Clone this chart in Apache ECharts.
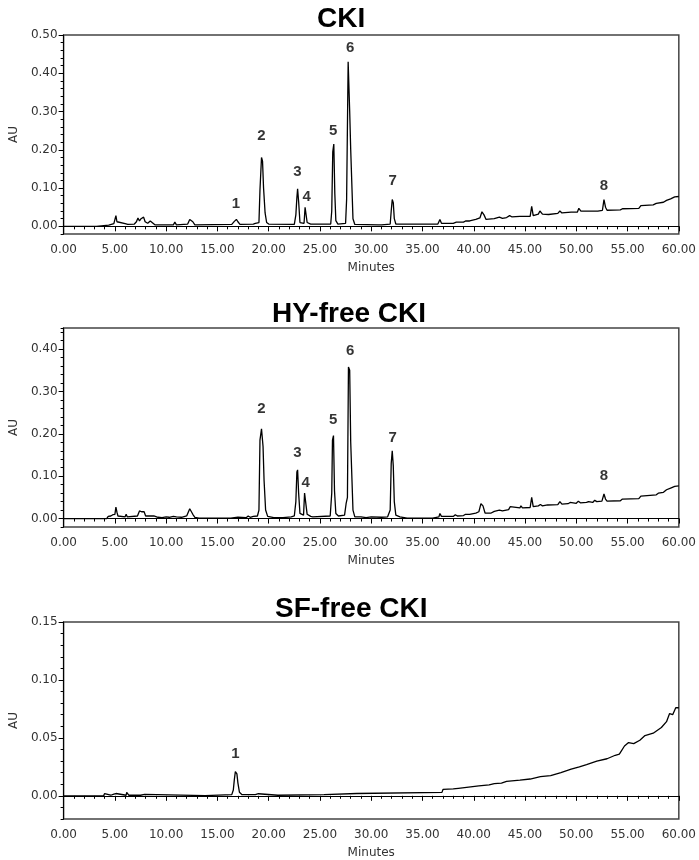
<!DOCTYPE html>
<html>
<head>
<meta charset="utf-8">
<title>CKI chromatograms</title>
<script src="https://cdn.jsdelivr.net/npm/echarts@6/dist/echarts.min.js"></script>
<style>
  html, body { margin: 0; padding: 0; background: #fff; }
  #chart { width: 699px; height: 860px; }
</style>
</head>
<body>
<div id="chart"></div>
<script>
// chromatogram traces, [minutes, AU]
var ckiTrace = [
  [0,0],[3.2,0],[3.3,0.002],[4.4,0.003],[4.5,0.006],[4.9,0.007],[5.05,0.012],[5.1,0.028],[5.2,0.012],[5.35,0.008],
  [6.0,0.007],[6.1,0.01],[6.25,0.005],[6.9,0.006],[7.1,0.012],[7.25,0.022],[7.4,0.014],[7.55,0.02],[7.65,0.016],
  [7.8,0.024],[7.95,0.012],[8.2,0.008],[8.45,0.014],[8.6,0.012],[8.9,0.004],[10.7,0.004],[10.85,0.011],[11.0,0.004],
  [12.1,0.006],[12.3,0.018],[12.45,0.021],[12.6,0.012],[12.8,0.004],[16.4,0.005],[16.65,0.013],[16.85,0.018],
  [17.0,0.012],[17.2,0.005],[18.5,0.006],[18.7,0.008],[19.05,0.01],[19.15,0.095],[19.3,0.18],[19.4,0.17],[19.5,0.1],
  [19.65,0.035],[19.8,0.01],[20.0,0.006],[22.5,0.005],[22.65,0.03],[22.75,0.075],[22.82,0.098],[22.92,0.065],
  [23.05,0.01],[23.45,0.008],[23.55,0.05],[23.65,0.048],[23.75,0.01],[24.1,0.006],[24.25,0.01],[24.4,0.006],
  [26.05,0.006],[26.15,0.04],[26.25,0.195],[26.35,0.215],[26.45,0.085],[26.55,0.015],[26.75,0.006],
  [27.5,0.008],[27.6,0.07],[27.75,0.43],[27.9,0.3],[28.0,0.2],[28.12,0.2],[28.22,0.02],[28.4,0.005],
  [30.7,0.004],[30.85,0.007],[31.0,0.004],[31.85,0.006],[31.95,0.04],[32.05,0.07],[32.15,0.062],[32.25,0.02],
  [32.4,0.006],[36.5,0.006],[36.7,0.018],[36.85,0.008],[38.0,0.008],[38.3,0.011],[39.0,0.011],[39.2,0.014],
  [39.6,0.014],[40.2,0.018],[40.6,0.022],[40.8,0.038],[41.0,0.03],[41.2,0.018],[42.0,0.02],[42.5,0.024],
  [42.8,0.021],[43.2,0.023],[43.5,0.028],[43.7,0.025],[44.5,0.026],[44.6,0.03],[44.8,0.026],[45.5,0.026],
  [45.65,0.052],[45.8,0.028],[46.3,0.032],[46.45,0.04],[46.7,0.032],[47.3,0.031],[48.2,0.034],[48.4,0.04],
  [48.6,0.035],[49.5,0.037],[50.1,0.037],[50.25,0.047],[50.45,0.04],[51.0,0.04],[51.9,0.04],[52.0,0.044],
  [52.1,0.04],[52.55,0.042],[52.7,0.07],[52.85,0.05],[53.0,0.042],[54.3,0.043],[54.5,0.046],[56.1,0.047],
  [56.3,0.054],[57.5,0.056],[57.8,0.06],[58.5,0.063],[58.8,0.068],[59.2,0.072],[59.6,0.077],[60,0.078]
];

var hyFreeTrace = [
  [0,0],[4.2,0],[4.35,0.005],[4.6,0.006],[4.8,0.009],[5.0,0.01],[5.1,0.027],[5.2,0.015],[5.3,0.006],[6.0,0.004],
  [6.1,0.01],[6.2,0.004],[7.2,0.006],[7.4,0.018],[7.6,0.016],[7.7,0.012],[7.85,0.016],[8.0,0.006],[8.4,0.006],
  [8.55,0.01],[8.8,0.006],[9.2,0.003],[9.6,0.002],[10.0,0.004],[10.3,0.003],[10.7,0.005],[10.85,0.008],[11.0,0.004],
  [11.5,0.003],[12.0,0.006],[12.3,0.023],[12.45,0.02],[12.6,0.01],[12.8,0.003],[13.2,0.001],[13.9,0.001],
  [14.0,0.003],[14.3,0.001],[15.0,0.001],[15.1,0.003],[15.3,0.001],[16.3,0.001],[16.4,0.003],[17.0,0.003],
  [17.1,0.001],[17.8,0.002],[18.0,0.006],[18.2,0.003],[18.5,0.005],[18.9,0.006],[19.05,0.02],[19.15,0.185],
  [19.3,0.212],[19.45,0.17],[19.55,0.09],[19.7,0.02],[19.9,0.005],[20.5,0.002],[21.4,0.002],[21.5,0.004],
  [22.2,0.004],[22.5,0.006],[22.65,0.04],[22.75,0.11],[22.82,0.115],[22.92,0.06],[23.05,0.012],[23.4,0.008],
  [23.5,0.06],[23.62,0.058],[23.75,0.01],[24.1,0.005],[24.3,0.004],[26.0,0.006],[26.15,0.06],[26.22,0.185],
  [26.32,0.196],[26.42,0.065],[26.55,0.012],[26.8,0.006],[27.4,0.008],[27.55,0.035],[27.68,0.05],[27.78,0.358],
  [27.9,0.35],[28.0,0.18],[28.12,0.178],[28.22,0.02],[28.4,0.004],[29.0,0.004],[29.5,0.002],[30.0,0.004],
  [31.0,0.003],[31.6,0.004],[31.85,0.02],[31.95,0.13],[32.05,0.16],[32.15,0.125],[32.25,0.04],[32.4,0.008],
  [32.8,0.004],[33.5,0.001],[36.0,0.001],[36.6,0.004],[36.7,0.012],[36.85,0.005],[38.0,0.005],[38.2,0.009],
  [38.4,0.006],[39.0,0.007],[39.2,0.01],[39.6,0.01],[40.2,0.013],[40.5,0.016],[40.7,0.035],[40.9,0.03],
  [41.1,0.013],[41.7,0.013],[42.0,0.017],[42.5,0.02],[42.8,0.018],[43.4,0.021],[43.55,0.028],[43.7,0.024],
  [44.5,0.025],[44.6,0.03],[44.75,0.025],[45.5,0.026],[45.65,0.05],[45.8,0.028],[46.3,0.03],[46.5,0.033],
  [46.7,0.03],[47.2,0.032],[48.2,0.033],[48.4,0.04],[48.6,0.034],[49.2,0.035],[49.4,0.038],[50.0,0.036],
  [50.2,0.041],[50.4,0.037],[51.0,0.038],[51.2,0.04],[51.6,0.038],[51.8,0.043],[52.0,0.04],[52.5,0.041],
  [52.7,0.058],[52.85,0.046],[53.0,0.041],[54.3,0.042],[54.5,0.046],[56.1,0.047],[56.3,0.053],[57.8,0.056],
  [58.0,0.06],[58.5,0.062],[58.8,0.068],[59.2,0.072],[59.6,0.076],[60,0.077]
];

var sfFreeTrace = [
  [0,0],[3.9,0],[4.0,0.002],[4.1,0.0005],[4.6,0.0005],[4.7,0.0015],[4.9,0.0015],[5.0,0.0005],[5.1,0.002],
  [5.2,0.0005],[6.1,0.0005],[6.15,0.003],[6.3,0.003],[6.35,0.0005],[7.5,0.0005],[7.6,0.0012],[7.9,0.0012],
  [8.0,0.0002],[13.8,0.0002],[13.9,0.001],[16.4,0.001],[16.55,0.005],[16.65,0.014],[16.75,0.021],[16.9,0.019],
  [17.0,0.011],[17.15,0.003],[17.4,0.001],[18.7,0.001],[18.8,0.0018],[19.0,0.0018],[19.1,0.0005],[20.9,0.0005],
  [21.0,0.001],[25.4,0.001],[25.5,0.002],[28.6,0.002],[28.7,0.003],[36.9,0.003],[37.0,0.0055],[38.0,0.006],
  [38.5,0.0065],[39.5,0.0075],[40.5,0.0085],[41.5,0.0095],[42.0,0.0105],[42.7,0.011],[43.2,0.0125],[44.5,0.0135],
  [45.5,0.0145],[46.5,0.0165],[47.5,0.0175],[48.5,0.02],[49.5,0.023],[50.3,0.025],[51.0,0.027],[52.0,0.03],
  [53.0,0.032],[53.8,0.035],[54.2,0.036],[54.7,0.043],[55.1,0.046],[55.6,0.045],[56.2,0.048],[56.7,0.052],
  [57.5,0.054],[58.3,0.059],[58.8,0.064],[59.1,0.071],[59.4,0.07],[59.7,0.076],[60,0.076]
];

// peak numbers: label, minutes, AU of the label centre
var ckiPeaks   = [['1',16.8,0.059],['2',19.3,0.236],['3',22.8,0.143],['4',23.7,0.077],['5',26.3,0.25],['6',27.95,0.466],['7',32.1,0.119],['8',52.7,0.106]];
var hyPeaks    = [['2',19.3,0.259],['3',22.8,0.156],['4',23.6,0.084],['5',26.3,0.234],['6',27.95,0.396],['7',32.1,0.19],['8',52.7,0.1]];
var sfPeaks    = [['1',16.75,0.0366]];

var panelTitles = ['CKI', 'HY-free CKI', 'SF-free CKI'];
var yMax = [0.5, 0.45, 0.15];
var yMajor = [[0, 0.1, 0.2, 0.3, 0.4, 0.5], [0, 0.1, 0.2, 0.3, 0.4], [0, 0.05, 0.1, 0.15]];
var yMinorStep = [0.02, 0.02, 0.01];

var chart = echarts.init(document.getElementById('chart'));

var gridTops = [35, 328, 622];
var gridHeights = [199, 199, 198];
var titleLefts = [312, 267, 270];
var titleTops = [0, 295, 590];
var traces = [ckiTrace, hyFreeTrace, sfFreeTrace];
var peaks = [ckiPeaks, hyPeaks, sfPeaks];

var labelFont = 'DejaVu Sans';
var grids = [], xAxes = [], yAxes = [], series = [], titles = [];

for (var i = 0; i < 3; i++) {
  titles.push({
    text: panelTitles[i], left: titleLefts[i], top: titleTops[i],
    textStyle: { fontFamily: 'Liberation Sans', fontSize: 28, fontWeight: 'bold', color: '#000' }
  });
  grids.push({
    left: 55, right: 17, top: gridTops[i], height: gridHeights[i],
    show: true, borderColor: '#444', borderWidth: 1.5, backgroundColor: '#fff'
  });
  xAxes.push({
    type: 'value', gridIndex: i, min: 0, max: 60, interval: 5,
    name: 'Minutes', nameLocation: 'middle', nameGap: 28,
    nameTextStyle: { fontFamily: labelFont, fontSize: 12, color: '#333' },
    axisLine: { lineStyle: { color: '#000', width: 1 } },
    axisTick: { length: 5, lineStyle: { color: '#000' } },
    minorTick: { show: true, splitNumber: 5, length: 3, lineStyle: { color: '#000' } },
    axisLabel: { fontFamily: labelFont, fontSize: 12, color: '#333', margin: 10,
      formatter: function (v) { return v.toFixed(2); } },
    splitLine: { show: false }
  });
  yAxes.push({
    type: 'value', gridIndex: i, min: -0.02, max: yMax[i],
    name: 'AU', nameLocation: 'middle', nameGap: 42, nameRotate: 90,
    nameTextStyle: { fontFamily: labelFont, fontSize: 12, color: '#333' },
    axisLine: { show: true, lineStyle: { color: '#000', width: 1 } },
    axisTick: { show: true, length: 5, customValues: yMajor[i], lineStyle: { color: '#000' } },
    axisLabel: { fontFamily: labelFont, fontSize: 12, color: '#333', margin: 6,
      customValues: yMajor[i], formatter: function (v) { return v.toFixed(2); } },
    splitLine: { show: false }
  });
  // second axis only for the small ticks
  yAxes.push({
    type: 'value', gridIndex: i, min: -0.02, max: yMax[i], interval: yMinorStep[i], position: 'left',
    axisLine: { show: false },
    axisTick: { show: true, length: 3, lineStyle: { color: '#000' } },
    axisLabel: { show: false },
    splitLine: { show: false }
  });
  series.push({
    type: 'line', xAxisIndex: i, yAxisIndex: i * 2, data: traces[i],
    showSymbol: false, symbol: 'none',
    lineStyle: { color: '#000', width: 1.3 }, z: 3
  });
  series.push({
    type: 'scatter', xAxisIndex: i, yAxisIndex: i * 2, symbolSize: 0,
    data: peaks[i].map(function (p) { return { name: p[0], value: [p[1], p[2]] }; }),
    label: { show: true, position: 'inside', formatter: '{b}', textBorderWidth: 0,
      fontFamily: 'Liberation Sans', fontSize: 15, fontWeight: 'bold', color: '#000' },
    z: 4
  });
}

chart.setOption({
  animation: false,
  backgroundColor: '#fff',
  title: titles,
  grid: grids,
  xAxis: xAxes,
  yAxis: yAxes,
  series: series
});
</script>
</body>
</html>
